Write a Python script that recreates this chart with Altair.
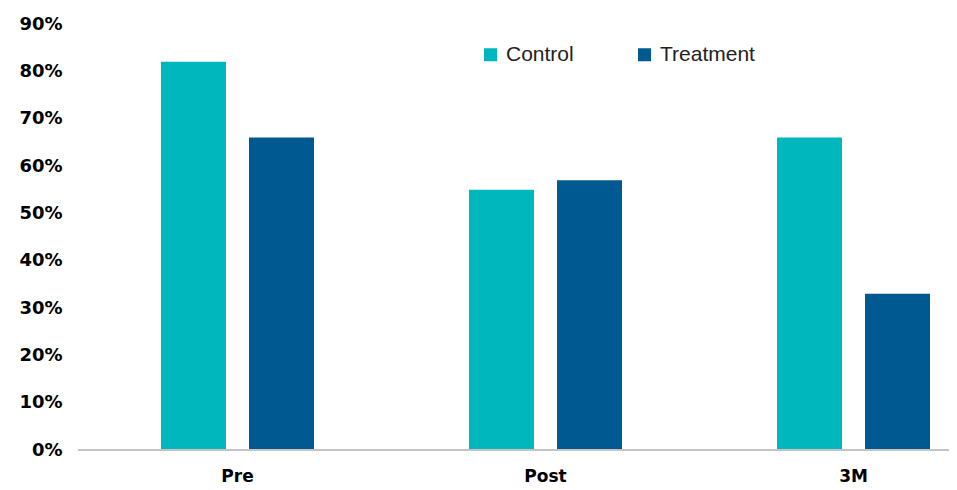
import altair as alt
import pandas as pd

timepoints = ["Pre", "Post", "3M"]
groups = ["Control", "Treatment"]
control = [0.82, 0.55, 0.66]
treatment = [0.66, 0.57, 0.33]
colors = ["#00B7BD", "#005A91"]

rows = []
for i, t in enumerate(timepoints):
    rows.append({"time": t, "group": "Control", "value": control[i]})
    rows.append({"time": t, "group": "Treatment", "value": treatment[i]})
df = pd.DataFrame(rows)

W, H = 871, 426

bars = alt.Chart(df).mark_bar().encode(
    x=alt.X("time:N", sort=timepoints, title=None,
            scale=alt.Scale(range=[5.5, 929.5], paddingInner=0, paddingOuter=0),
            axis=alt.Axis(labelAngle=0, domain=False, ticks=False, tickSize=0,
                          labelFont="DejaVu Sans", labelFontWeight="bold",
                          labelFontSize=17, labelColor="#000000", labelPadding=18)),
    xOffset=alt.XOffset("group:N", sort=groups,
                        scale=alt.Scale(paddingInner=0.2614, paddingOuter=0.88)),
    y=alt.Y("value:Q", title=None,
            scale=alt.Scale(domain=[0, 0.9], nice=False),
            axis=alt.Axis(format=".0%", values=[i / 10 for i in range(10)],
                          domain=False, ticks=False, tickSize=0, grid=False,
                          labelFont="DejaVu Sans", labelFontWeight="bold",
                          labelFontSize=18, labelColor="#000000", labelPadding=16)),
    color=alt.Color("group:N", sort=groups,
                    scale=alt.Scale(domain=groups, range=colors),
                    legend=alt.Legend(title=None, orient="none", direction="horizontal",
                                      legendX=402, legendY=20, padding=0,
                                      symbolType="square",
                                      symbolSize=169, symbolStrokeWidth=0,
                                      labelFont="Liberation Sans", labelFontSize=21,
                                      labelColor="#222222", labelOffset=5,
                                      columnPadding=60)),
)

base = alt.Chart(pd.DataFrame({"v": [0]})).mark_rule(color="#c4c4c4", strokeWidth=2).encode(
    y=alt.Y("v:Q"), x=alt.value(0), x2=alt.value(W + 8)
)

chart = alt.layer(bars, base).properties(
    width=W, height=H,
    autosize=alt.AutoSizeParams(type="none"),
    padding={"left": 70, "top": 16, "right": 0, "bottom": 40},
).configure_view(stroke=None)

chart.save("out.html", embed_options={"renderer": "svg", "actions": False})
